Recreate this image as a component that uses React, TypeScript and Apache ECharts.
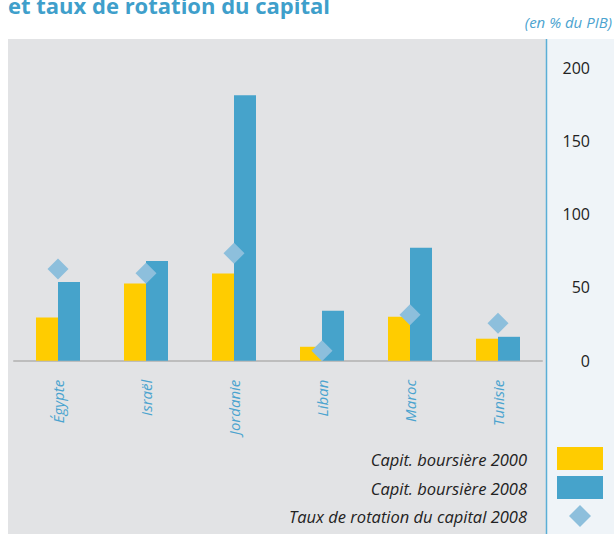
import React, { useEffect, useRef } from "react";
import * as echarts from "echarts";

const categories = ["Égypte", "Israël", "Jordanie", "Liban", "Maroc", "Tunisie"];
const capi2000 = [29.5, 52.6, 59.4, 9.5, 30, 15];
const capi2008 = [53.7, 68, 181, 34, 77, 16.3];
const rotation2008 = [62.6, 59.7, 73.3, 6.8, 31.3, 25.6];
const yTicks = { min: 0, max: 200, interval: 50 };
const legendLabels = ["Capit. boursière 2000", "Capit. boursière 2008", "Taux de rotation du capital 2008"];
const titleText = "et taux de rotation du capital";
const unitText = "(en % du PIB)";

const FONT = "'Open Sans', 'Noto Sans', sans-serif";
const YELLOW = "#ffcc00";
const BLUE = "#46a3cb";
const DIAMOND = "#8dbfdc";
const TITLE_BLUE = "#3f9fcb";

export default function App() {
  const ref = useRef<HTMLDivElement>(null);
  useEffect(() => {
    document.body.style.margin = "0";
    if (!ref.current) return;
    const chart = echarts.init(ref.current, undefined, { renderer: "svg" });
    const legendY = [459, 488, 516];
    chart.setOption({
      animation: false,
      backgroundColor: "#ffffff",
      textStyle: { fontFamily: FONT },
      grid: { left: 14, right: 72, top: 67.5, bottom: 173.3 },
      xAxis: {
        type: "category",
        data: categories,
        axisLine: { show: true, lineStyle: { color: "#bdbdbd", width: 2 } },
        axisTick: { show: false },
        axisLabel: {
          rotate: 90,
          margin: 19,
          color: "#4ba3cf",
          fontStyle: "italic",
          fontSize: 15,
          fontFamily: FONT,
        },
      },
      yAxis: {
        type: "value",
        position: "right",
        min: yTicks.min,
        max: yTicks.max,
        interval: yTicks.interval,
        splitLine: { show: false },
        axisLine: { show: false },
        axisTick: { show: false },
        axisLabel: {
          align: "right",
          margin: 48,
          color: "#222222",
          fontSize: 16,
          fontFamily: FONT,
        },
      },
      series: [
        {
          name: legendLabels[0],
          type: "bar",
          data: capi2000,
          barWidth: "25%",
          barGap: "0%",
          itemStyle: { color: YELLOW },
        },
        {
          name: legendLabels[1],
          type: "bar",
          data: capi2008,
          barWidth: "25%",
          barGap: "0%",
          itemStyle: { color: BLUE },
        },
        {
          name: legendLabels[2],
          type: "scatter",
          data: rotation2008,
          symbol: "diamond",
          symbolSize: 21,
          itemStyle: { color: DIAMOND, opacity: 1 },
          z: 5,
        },
      ],
      graphic: [
        { type: "rect", z: -10, silent: true, shape: { x: 8, y: 39, width: 538, height: 495 }, style: { fill: "#e2e3e5" } },
        { type: "rect", z: -10, silent: true, shape: { x: 546, y: 39, width: 68, height: 495 }, style: { fill: "#eff4f8" } },
        { type: "line", z: -9, silent: true, shape: { x1: 546.5, y1: 39, x2: 546.5, y2: 534 }, style: { stroke: "#5aaed6", lineWidth: 1.5 } },
        {
          type: "text",
          x: 8,
          y: 5,
          style: { text: titleText, fill: TITLE_BLUE, font: `bold 22px ${FONT}`, verticalAlign: "middle" },
        },
        {
          type: "text",
          x: 612,
          y: 21.5,
          style: { text: unitText, fill: "#4ba3cf", font: `italic 15px ${FONT}`, align: "right", verticalAlign: "middle" },
        },
        ...legendLabels.map((t, i) => ({
          type: "text",
          x: 527,
          y: legendY[i],
          style: { text: t, fill: "#222222", font: `italic 16.5px ${FONT}`, align: "right", verticalAlign: "middle" },
        })),
        { type: "rect", shape: { x: 557, y: 447, width: 46, height: 23 }, style: { fill: YELLOW } },
        { type: "rect", shape: { x: 557, y: 476, width: 46, height: 23 }, style: { fill: BLUE } },
        {
          type: "polygon",
          shape: { points: [[580, 505], [591, 516], [580, 527], [569, 516]] },
          style: { fill: DIAMOND },
        },
      ],
    });
    return () => chart.dispose();
  }, []);
  return <div ref={ref} style={{ width: 614, height: 534 }} />;
}
